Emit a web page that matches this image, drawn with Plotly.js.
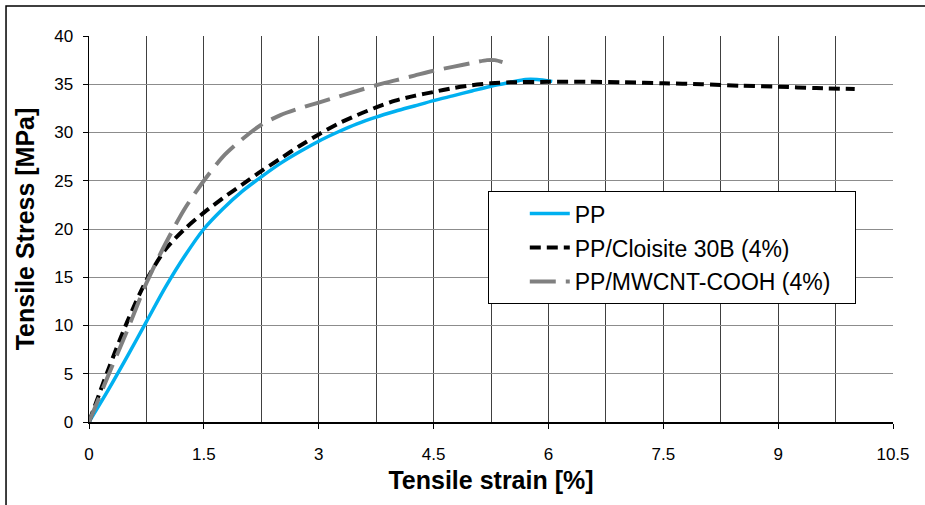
<!DOCTYPE html>
<html>
<head>
<meta charset="utf-8">
<script src="https://cdn.plot.ly/plotly-3.0.1.min.js"></script>
<style>html,body{margin:0;padding:0;background:#fff;}#chart{width:925px;height:505px;}</style>
</head>
<body>
<div id="chart"></div>
<script>
// Tensile strain [%] and stress [MPa]
const ppStrain = [0, 0.25, 0.5, 0.75, 1.0, 1.25, 1.5, 1.75, 2.0, 2.25, 2.5, 2.75, 3.0, 3.25, 3.5, 3.75, 4.0, 4.25, 4.5, 4.75, 5.0, 5.25, 5.5, 5.7, 5.85, 6.05];
const ppStress = [0, 3.3, 6.8, 10.4, 14.0, 17.2, 20.0, 22.1, 23.9, 25.4, 26.8, 28.0, 29.1, 30.05, 30.9, 31.6, 32.2, 32.75, 33.3, 33.8, 34.3, 34.8, 35.2, 35.5, 35.5, 35.3];

const cloStrain = [0, 0.25, 0.5, 0.75, 1.0, 1.25, 1.5, 1.75, 2.0, 2.25, 2.5, 2.75, 3.0, 3.25, 3.5, 3.75, 4.0, 4.25, 4.5, 4.75, 5.0, 5.25, 5.5, 6.0, 6.5, 7.0, 7.5, 8.0, 8.5, 9.0, 9.5, 10.0];
const cloStress = [0, 5.4, 10.4, 14.7, 17.9, 20.0, 21.7, 23.2, 24.6, 26.0, 27.3, 28.6, 29.8, 30.9, 31.8, 32.6, 33.3, 33.8, 34.2, 34.6, 34.9, 35.1, 35.2, 35.25, 35.25, 35.2, 35.1, 35.0, 34.85, 34.75, 34.6, 34.5];

const cntStrain = [0, 0.25, 0.5, 0.75, 1.0, 1.25, 1.5, 1.75, 2.0, 2.25, 2.5, 2.75, 3.0, 3.25, 3.5, 3.75, 4.0, 4.25, 4.5, 4.75, 5.0, 5.2, 5.3, 5.4];
const cntStress = [0, 4.8, 9.5, 14.4, 18.5, 22.1, 25.0, 27.5, 29.3, 30.8, 31.8, 32.5, 33.1, 33.7, 34.3, 34.9, 35.4, 35.9, 36.4, 36.8, 37.2, 37.5, 37.5, 37.3];

const seriesNames = ["PP", "PP/Cloisite 30B (4%)", "PP/MWCNT-COOH (4%)"];
const xTickVals = [0, 1.5, 3, 4.5, 6, 7.5, 9, 10.5];
const xTickText = ["0", "1.5", "3", "4.5", "6", "7.5", "9", "10.5"];
const yTickVals = [0, 5, 10, 15, 20, 25, 30, 35, 40];

const font = "Liberation Sans, Arial, sans-serif";
const pad = "\u00a0\u00a0\u00a0"; // widens the legend box to the reference's width

const traces = [
  {x: ppStrain, y: ppStress, name: seriesNames[0], mode: "lines", legendgroup: "a",
   line: {color: "#00B0F0", width: 3.5, shape: "spline", smoothing: 0.8}},
  {x: cloStrain, y: cloStress, name: seriesNames[1], mode: "lines", legendgroup: "b",
   line: {color: "#000000", width: 4, dash: "11px,6px", shape: "spline", smoothing: 0.8}},
  {x: cntStrain, y: cntStress, name: seriesNames[2] + pad, mode: "lines", legendgroup: "c",
   line: {color: "#808080", width: 4, dash: "26px,10px", shape: "spline", smoothing: 0.8}}
];

const layout = {
  width: 925, height: 505,
  margin: {l: 89, r: 32, t: 36, b: 83},
  paper_bgcolor: "#ffffff", plot_bgcolor: "#ffffff",
  font: {family: font, size: 17, color: "#000"},
  showlegend: true,
  legend: {
    x: 0.496, y: 0.598, xanchor: "left", yanchor: "top",
    bgcolor: "#ffffff", bordercolor: "#000000", borderwidth: 1,
    font: {family: font, size: 23, color: "#000"},
    tracegroupgap: 1, indentation: 36, itemwidth: 40
  },
  xaxis: {
    range: [0, 10.5], tickvals: xTickVals, ticktext: xTickText,
    ticks: "outside", ticklen: 5, tickcolor: "#000", tickwidth: 1,
    showline: true, linecolor: "#000", linewidth: 1.5,
    showgrid: true, gridcolor: "#404040", gridwidth: 1,
    minor: {dtick: 0.75, tick0: 0, showgrid: true, gridcolor: "#404040", gridwidth: 1, ticks: ""},
    zeroline: false, mirror: false,
    tickfont: {family: font, size: 17, color: "#000"},
    ticklabelstandoff: 11,
    title: {text: "<b>Tensile strain [%]</b>", font: {family: font, size: 25, color: "#000"}, standoff: 8}
  },
  yaxis: {
    range: [0, 40], tickvals: yTickVals,
    ticks: "outside", ticklen: 5, tickcolor: "#000", tickwidth: 1,
    showline: true, linecolor: "#000", linewidth: 1.5,
    showgrid: true, gridcolor: "#8c8c8c", gridwidth: 1,
    zeroline: false,
    tickfont: {family: font, size: 17, color: "#000"},
    ticklabelstandoff: 6,
    title: {text: "<b>Tensile Stress [MPa]</b>", font: {family: font, size: 25, color: "#000"}, standoff: 12}
  },
  shapes: [
    {type: "path", xref: "paper", yref: "paper",
     path: "M -0.1032 -0.3 L -0.1032 1.0777 L 1.2 1.0777",
     line: {color: "#000", width: 1.5}}
  ]
};

Plotly.newPlot("chart", traces, layout, {displayModeBar: false, staticPlot: true});
</script>
</body>
</html>
